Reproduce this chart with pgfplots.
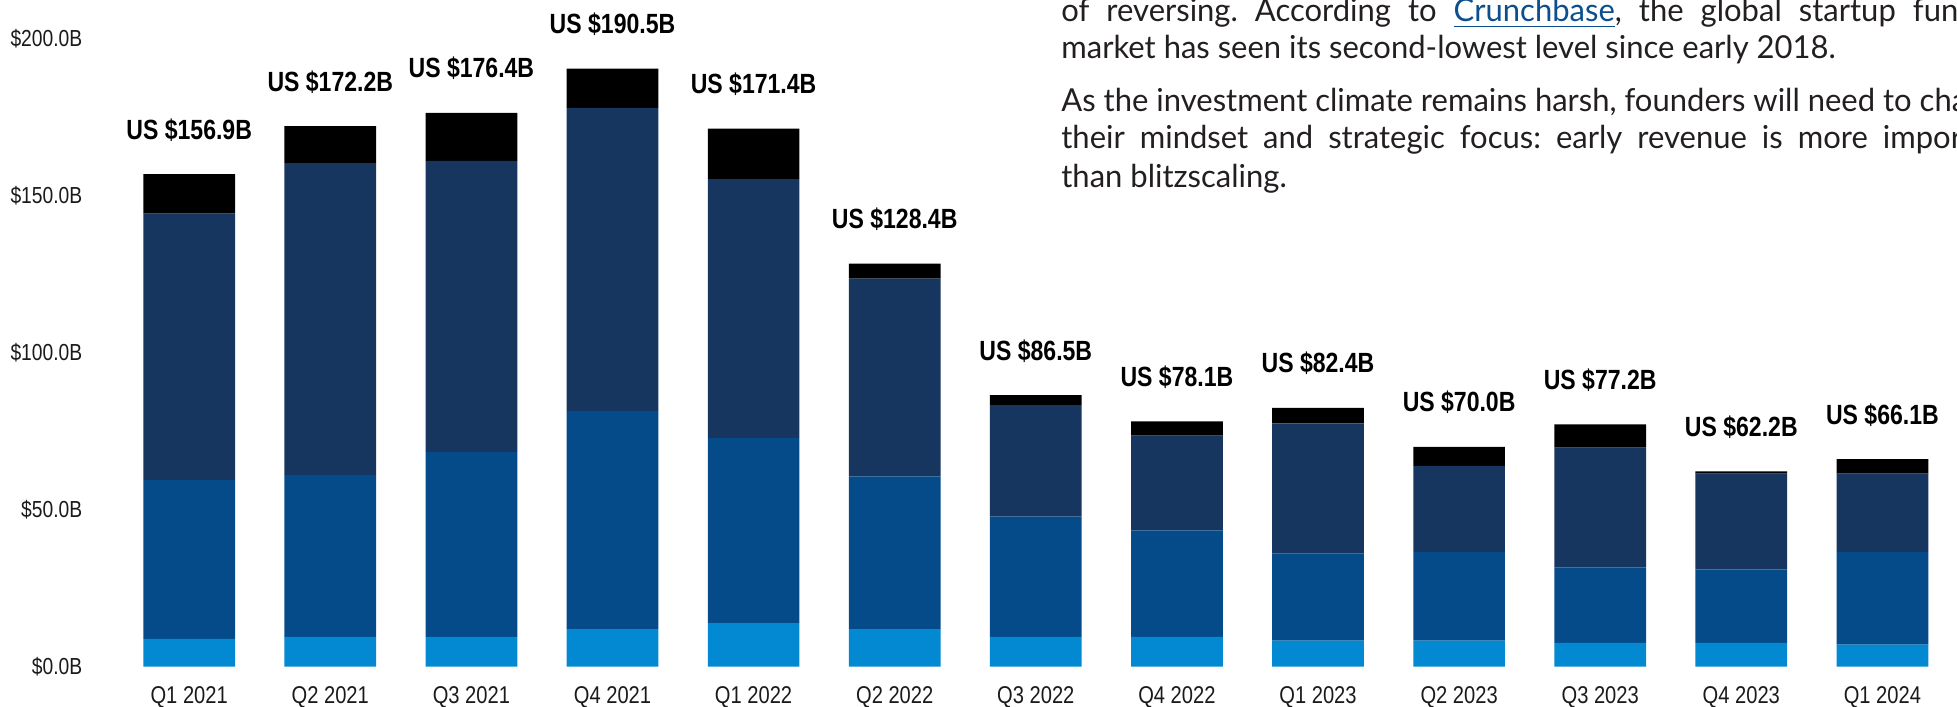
\documentclass[border=0pt]{standalone}
\usepackage{pgfplots}
\pgfplotsset{compat=1.18}
\usepackage{fontspec}
\setmainfont{Liberation Sans}
\newfontfamily\chartfont[FakeStretch=0.83]{Liberation Sans}
\newfontfamily\bodyfont[FakeStretch=0.98]{Lato}
\definecolor{lightblue}{HTML}{0289D2}
\definecolor{midblue}{HTML}{054B8A}
\definecolor{navy}{HTML}{163660}
\definecolor{labeltext}{HTML}{1A1A1A}
\definecolor{bodytext}{HTML}{231F20}
\definecolor{linkblue}{HTML}{0B4F8F}
\frenchspacing
\newcommand\bodysize{\bodyfont\fontsize{9}{10.75}\selectfont}
\newlength\linew

\pgfplotsset{frame/.style={
  at={(0,0)}, anchor=south west, scale only axis,
  width=183.43mm, height=62.8mm,
  xmin=-0.5, xmax=12.5, ymin=0, ymax=200, clip=false}}

\begin{document}%
\settowidth\linew{\bodysize As the investment climate remains harsh, founders will need to change}%
\begin{tikzpicture}
\path[use as bounding box] (-11.865mm,-3.93mm) rectangle (183.835mm,66.67mm);
\begin{axis}[
  frame,
  ybar stacked, bar width=9.17mm,
  axis line style={draw=none}, major tick length=0pt, tick style={draw=none},
  xtick={0,1,2,3,4,5,6,7,8,9,10,11,12},
  xticklabels={Q1 2021,Q2 2021,Q3 2021,Q4 2021,Q1 2022,Q2 2022,Q3 2022,Q4 2022,Q1 2023,Q2 2023,Q3 2023,Q4 2023,Q1 2024},
  ytick={0,50,100,150,200},
  yticklabels={\$0.0B,\$50.0B,\$100.0B,\$150.0B,\$200.0B},
  yticklabel style={font=\chartfont\fontsize{6.6}{7}\selectfont, text=labeltext, anchor=east, inner sep=0pt, xshift=-3.57mm},
  xticklabel style={font=\chartfont\fontsize{6.9}{7}\selectfont, text=labeltext, anchor=base, inner sep=0pt, yshift=-3.63mm},
]
% light blue
\addplot[fill=lightblue, draw=none] coordinates {(0,8.9) (1,9.5) (2,9.5) (3,12.0) (4,13.9) (5,12.0) (6,9.5) (7,9.5) (8,8.3) (9,8.3) (10,7.6) (11,7.6) (12,7.0)};
% medium blue
\addplot[fill=midblue, draw=none] coordinates {(0,50.5) (1,51.6) (2,58.9) (3,69.5) (4,59.0) (5,48.6) (6,38.3) (7,33.9) (8,27.7) (9,28.3) (10,24.0) (11,23.4) (12,29.6)};
% navy
\addplot[fill=navy, draw=none] coordinates {(0,84.9) (1,99.3) (2,92.7) (3,96.5) (4,82.4) (5,63.0) (6,35.5) (7,30.2) (8,41.5) (9,27.4) (10,38.2) (11,30.5) (12,24.9)};
% black top
\addplot[fill=black, draw=none] coordinates {(0,12.6) (1,11.8) (2,15.3) (3,12.5) (4,16.1) (5,4.8) (6,3.2) (7,4.5) (8,4.9) (9,6.0) (10,7.4) (11,0.7) (12,4.6)};
\end{axis}
% totals above the bars, same frame
\begin{axis}[frame, hide axis]
\addplot[draw=none, mark=none, nodes near coords, point meta=explicit symbolic,
  every node near coord/.append style={font=\chartfont\bfseries\fontsize{7.9}{8}\selectfont, text=black, anchor=base, inner sep=0pt, yshift=3.5mm}]
  coordinates {(0,156.9)[US \$156.9B] (1,172.2)[US \$172.2B] (2,176.4)[US \$176.4B] (3,190.5)[US \$190.5B] (4,171.4)[US \$171.4B] (5,128.4)[US \$128.4B] (6,86.5)[US \$86.5B] (7,78.1)[US \$78.1B] (8,82.4)[US \$82.4B] (9,70.0)[US \$70.0B] (10,77.2)[US \$77.2B] (11,62.2)[US \$62.2B] (12,66.1)[US \$66.1B]};
\end{axis}
\begin{scope}
\clip (-11.865mm,-3.93mm) rectangle (183.835mm,66.67mm);
\begin{scope}[every node/.style={anchor=base west, inner sep=0pt, text=bodytext, font=\bodysize}]
\node at (94.2mm,64.55mm) {\makebox[\linew][s]{of reversing. According to \textcolor{linkblue}{\underline{Crunchbase}}, the global startup funding}};
\node at (94.2mm,60.82mm) {market has seen its second-lowest level since early 2018.};
\node at (94.2mm,55.55mm) {As the investment climate remains harsh, founders will need to change};
\node at (94.2mm,51.78mm) {\makebox[\linew][s]{their mindset and strategic focus: early revenue is more important}};
\node at (94.2mm,47.95mm) {than blitzscaling.};
\end{scope}
\end{scope}
\end{tikzpicture}%
\end{document}
